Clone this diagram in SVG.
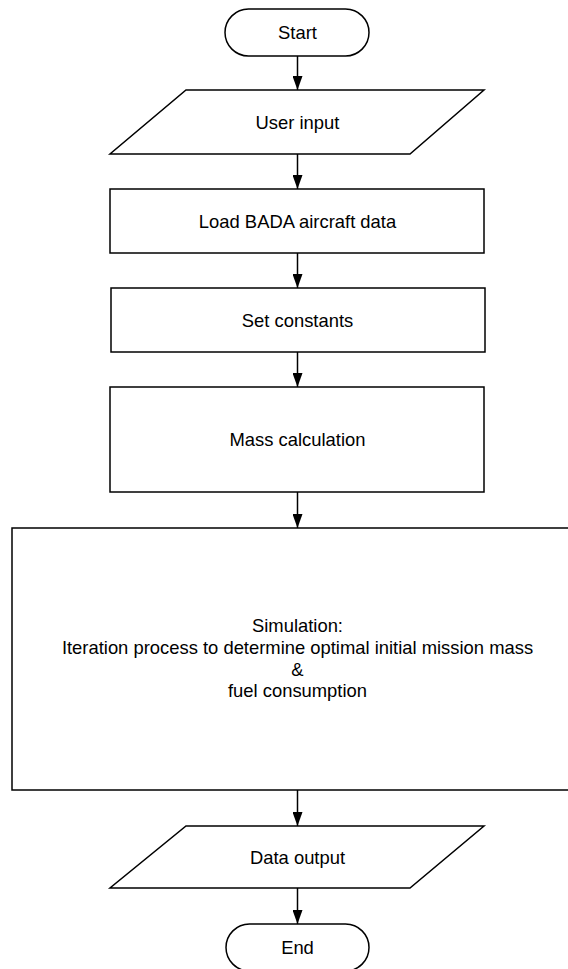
<svg xmlns="http://www.w3.org/2000/svg" width="568" height="969" viewBox="0 0 568 969">
<style>
.s{fill:#ffffff;stroke:#000000;stroke-width:1.5}
.t{font-family:"Liberation Sans",Arial,Helvetica,sans-serif;font-size:18.4px;fill:#000000;text-anchor:middle}
.c{stroke:#000000;stroke-width:1.5;fill:none;marker-end:url(#ah)}
</style>
<defs>
<marker id="ah" viewBox="0 0 14 10" refX="14" refY="5" markerWidth="14" markerHeight="10" markerUnits="userSpaceOnUse" orient="auto">
<path d="M0,0 L14,5 L0,10 Z" fill="#000000"/>
</marker>
</defs>
<rect width="568" height="969" fill="#ffffff"/>
<g id="connectors">
<line class="c" x1="297.5" y1="56" x2="297.5" y2="90"/>
<line class="c" x1="297.5" y1="154" x2="297.5" y2="189"/>
<line class="c" x1="297.5" y1="253" x2="297.5" y2="288"/>
<line class="c" x1="297.5" y1="352" x2="297.5" y2="387"/>
<line class="c" x1="297.5" y1="492" x2="297.5" y2="528"/>
<line class="c" x1="297.5" y1="790" x2="297.5" y2="826"/>
<line class="c" x1="297.5" y1="888" x2="297.5" y2="924"/>
</g>
<g id="start">
<rect class="s" x="225" y="9" width="144" height="47" rx="23.5" ry="23.5"/>
<text class="t" x="297.5" y="39">Start</text>
</g>
<g id="user-input">
<polygon class="s" points="186,90 484,90 410,154 110,154"/>
<text class="t" x="297.5" y="128.5">User input</text>
</g>
<g id="load-bada">
<rect class="s" x="110" y="189" width="374" height="64"/>
<text class="t" x="297.5" y="227.5">Load BADA aircraft data</text>
</g>
<g id="set-constants">
<rect class="s" x="111" y="288" width="374" height="64"/>
<text class="t" x="297.5" y="326.5">Set constants</text>
</g>
<g id="mass-calculation">
<rect class="s" x="110" y="387" width="374" height="105"/>
<text class="t" x="297.5" y="446">Mass calculation</text>
</g>
<g id="simulation">
<rect class="s" x="12" y="528" width="570" height="262"/>
<text class="t" x="297.5" y="632">Simulation:</text>
<text class="t" x="297.5" y="654">Iteration process to determine optimal initial mission mass</text>
<text class="t" x="297.5" y="675.5">&amp;</text>
<text class="t" x="297.5" y="697">fuel consumption</text>
</g>
<g id="data-output">
<polygon class="s" points="186,826 484,826 410,888 110,888"/>
<text class="t" x="297.5" y="863.5">Data output</text>
</g>
<g id="end">
<rect class="s" x="226" y="924" width="143" height="47" rx="23.5" ry="23.5"/>
<text class="t" x="297.5" y="954">End</text>
</g>
</svg>
